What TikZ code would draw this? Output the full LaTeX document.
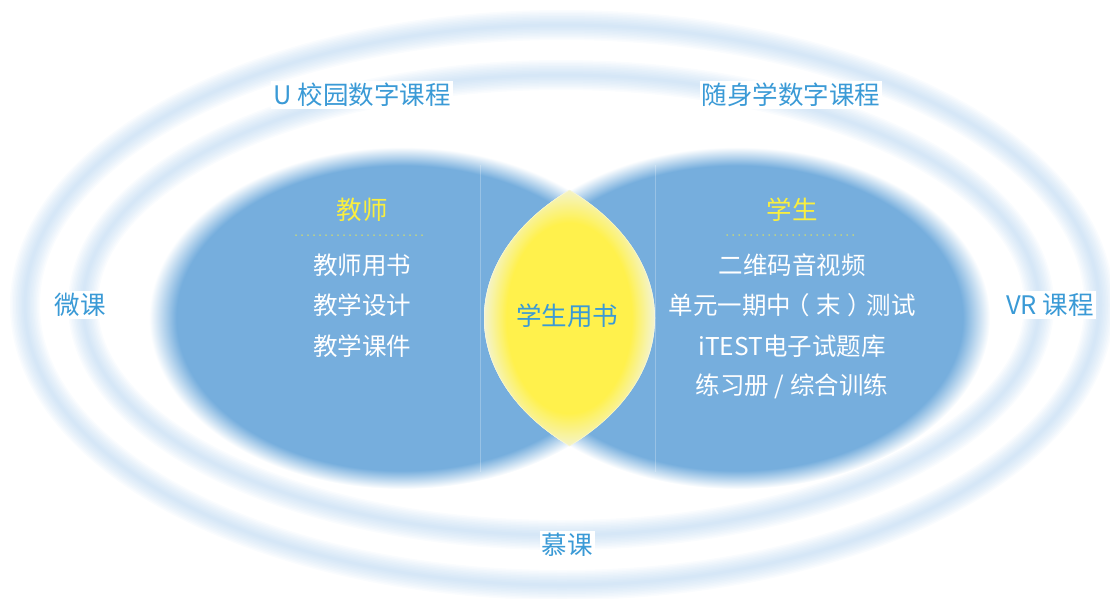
\documentclass[tikz,border=0pt]{standalone}
\usepackage{fontspec}
\newfontfamily\cjk{Noto Sans CJK SC}
\definecolor{blobblue}{RGB}{118,174,221}
\definecolor{ringblue}{RGB}{165,202,237}
\definecolor{textblue}{RGB}{58,154,214}
\definecolor{lensyellow}{RGB}{255,241,76}
\definecolor{lensrim}{RGB}{242,244,226}
\definecolor{headyellow}{RGB}{250,239,62}
\pgfdeclareradialshading{blobshade}{\pgfpointorigin}{color(0bp)=(blobblue); color(22.3bp)=(blobblue); color(25bp)=(white); color(50bp)=(white)}
\pgfdeclareradialshading{lensshade}{\pgfpointorigin}{color(0bp)=(lensyellow); color(17bp)=(lensyellow); color(24bp)=(lensrim); color(50bp)=(lensrim)}
\begin{document}
\begin{tikzpicture}[x=1pt,y=-1pt,
	title/.style={font=\cjk\fontsize{25.5}{30}\selectfont,text=textblue,fill=white,inner sep=2pt},
	head/.style={font=\cjk\fontsize{25.5}{30}\selectfont,text=headyellow,inner sep=0pt},
	item/.style={font=\cjk\fontsize{24.5}{28}\selectfont,text=white,inner sep=0pt},
	dots/.style={headyellow,line width=1.5pt,line cap=round,dash pattern=on 0pt off 6pt}]
			\useasboundingbox (0,0) rectangle (1110,598);
			% rings
			\foreach \w in {30,27,...,3}{
				\draw[ringblue,opacity=0.058,line width=\w pt] (562,305) ellipse (537 and 280);
				\draw[ringblue,opacity=0.058,line width=\w pt] (561,305) ellipse (478 and 230);
			}
			% blue blobs
			\shade[shading=blobshade] (402,318) ellipse (253 and 171);
			\shade[shading=blobshade] (737,318) ellipse (253 and 171);
			\draw[white,opacity=.25,line width=.8pt] (480,165) -- (480,472) (655,165) -- (655,472);
			% lens
			\begin{scope}
				\clip (402,318) ellipse (253 and 171);
				\clip (737,318) ellipse (253 and 171);
				\fill[lensrim] (400,100) rectangle (740,500);
				\shade[shading=lensshade] (569,318) ellipse (92 and 140);
				\draw[white,opacity=.35,line width=1pt] (402,318) ellipse (253 and 171) (737,318) ellipse (253 and 171);
			\end{scope}
			\node[title] (ucampus) at (362,95) {U 校园数字课程};
			\node[title] (mobile) at (791,95) {随身学数字课程};
			\node[title] (micro) at (80,305) {微课};
			\node[title] (vr) at (1050,305) {VR 课程};
			\node[title] (mooc) at (567,545) {慕课};
			\node[title,fill=none] (book) at (567,316) {学生用书};
			\node[head] (teacher) at (362,210) {教师};
			\draw[dots] (296,235) -- (426,235);
			\node[item] (t1) at (362,265) {教师用书};
			\node[item] (t2) at (362,305) {教学设计};
			\node[item] (t3) at (362,346) {教学课件};
			\node[head] (student) at (792,210) {学生};
			\draw[dots] (727,235) -- (857,235);
			\node[item] (s1) at (792,265) {二维码音视频};
			\node[item] (s2) at (792,305) {单元一期中\hspace{-6pt}（\hspace{7pt}末\hspace{7pt}）\hspace{-6pt}测试};
			\node[item] (s3) at (792,346) {iTEST电子试题库};
			\node[item] (s4) at (792,386) {练习册 / 综合训练};
		\end{tikzpicture}
\end{document}
